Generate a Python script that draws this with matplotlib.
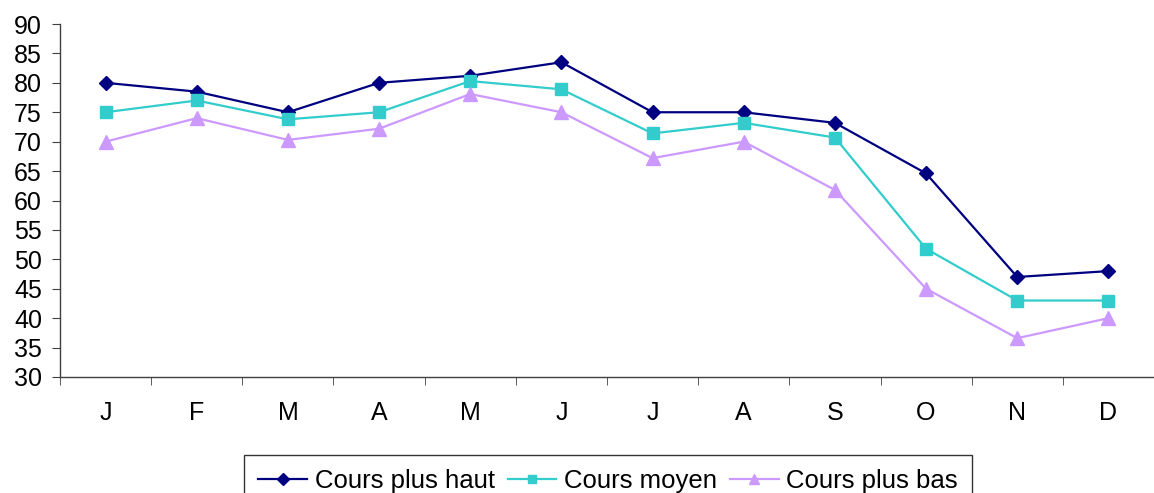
import matplotlib.pyplot as plt
import numpy as np

months = ["J", "F", "M", "A", "M", "J", "J", "A", "S", "O", "N", "D"]
cours_haut = [80, 78.5, 75, 80, 81.2, 83.5, 75, 75, 73.2, 64.6, 47, 48]
cours_moyen = [75, 77, 73.8, 75, 80.3, 78.9, 71.4, 73.2, 70.7, 51.8, 43, 43]
cours_bas = [70, 74, 70.3, 72.2, 78.1, 75, 67.2, 70, 61.8, 45, 36.6, 40]

plt.rcParams['font.family'] = ['Liberation Sans', 'DejaVu Sans']

W, H = 1154, 493
fig = plt.figure(figsize=(W / 100, H / 100), dpi=100)
ax = fig.add_axes([60 / W, (H - 377) / H, (W - 60) / W, (377 - 24) / H])

x = np.arange(len(months))
ax.plot(x, cours_haut, color="#000080", lw=1.6, marker="D", ms=7.5, label="Cours plus haut")
ax.plot(x, cours_moyen, color="#33CCCC", lw=1.6, marker="s", ms=8, label="Cours moyen")
ax.plot(x, cours_bas, color="#CC99FF", lw=1.6, marker="^", ms=10, label="Cours plus bas")

ax.set_ylim(30, 90)
ax.set_yticks(range(30, 95, 5))
ax.set_xlim(-0.5, 11.45)
ax.set_xticks(x)
ax.set_xticklabels(months)
ax.set_xticks(np.arange(-0.5, 12, 1), minor=True)

for s in ["top", "right"]:
    ax.spines[s].set_visible(False)
for s in ["left", "bottom"]:
    ax.spines[s].set_color("#404040")
    ax.spines[s].set_linewidth(1)

ax.tick_params(axis="y", labelsize=18, length=6, color="#404040", pad=7)
ax.tick_params(axis="x", which="major", length=0, labelsize=18, pad=17)
ax.tick_params(axis="x", which="minor", length=6, color="#404040")

fig.legend(loc="upper left", bbox_to_anchor=(244 / W, 1 - 455 / H), ncol=3,
           frameon=True, fancybox=False, edgecolor="black", fontsize=18.5,
           handlelength=1.9, handletextpad=0.3, columnspacing=0.5,
           markerscale=0.75, borderpad=0.55, borderaxespad=0)

fig.savefig("out.png", dpi=100)
